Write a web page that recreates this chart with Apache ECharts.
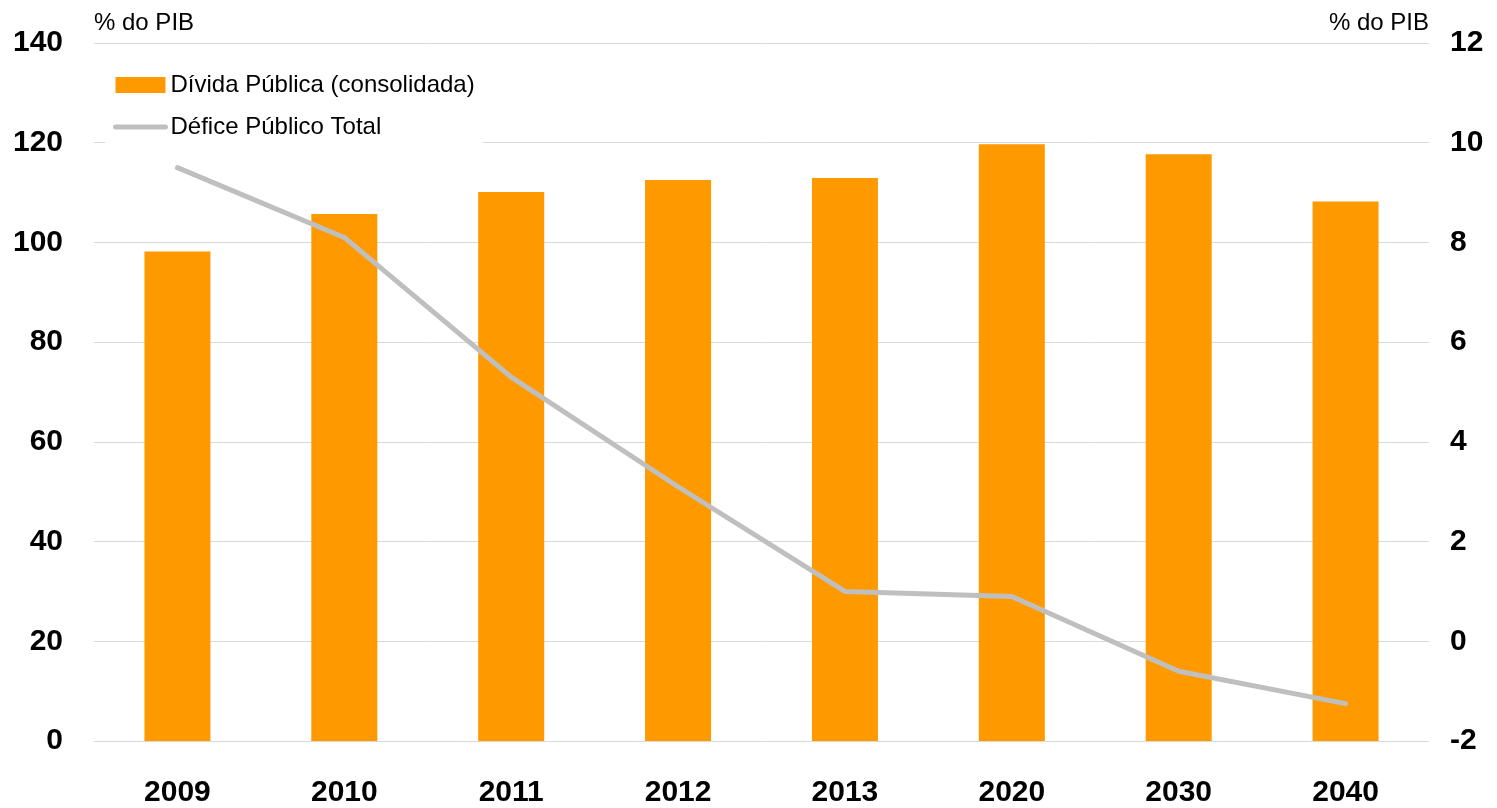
<!DOCTYPE html>
<html>
<head>
<meta charset="utf-8">
<title>Dívida e Défice Público</title>
<script src="https://cdn.jsdelivr.net/npm/echarts@6/dist/echarts.min.js"></script>
<style>
  html, body { margin: 0; padding: 0; background: #fff; }
  #chart { width: 1497px; height: 808px; }
</style>
</head>
<body>
<div id="chart"></div>
<script>
let years = ['2009', '2010', '2011', '2012', '2013', '2020', '2030', '2040']
let divida = [98.2, 105.7, 110.1, 112.5, 112.9, 119.7, 117.7, 108.2]
let defice = [9.5, 8.1, 5.3, 3.1, 1.0, 0.9, -0.6, -1.25]

let leftTicks = { min: 0, max: 140, interval: 20 }
let rightTicks = { min: -2, max: 12, interval: 2 }

let font = '"Liberation Sans", Arial, sans-serif'
let chart = echarts.init(document.getElementById('chart'))

chart.setOption({
  animation: false,
  textStyle: { fontFamily: font },
  grid: {
    left: 94,
    right: 68,
    top: 43,
    bottom: 64,
    containLabel: false
  },
  legend: {
    orient: 'vertical',
    left: 105,
    top: 58,
    padding: [15, 8, 10, 8],
    backgroundColor: '#fff',
    itemWidth: 50,
    itemHeight: 16,
    itemGap: 18,
    textStyle: { fontSize: 24, color: '#000', fontFamily: font },
    data: [
      { name: 'Dívida Pública (consolidada)', icon: 'rect' },
      {
        name: 'Défice Público Total',
        // only the line in the legend, no marker
        itemStyle: { opacity: 0 },
        lineStyle: { width: 5, cap: 'round' }
      }
    ]
  },
  xAxis: {
    type: 'category',
    data: years,
    axisTick: { show: false },
    axisLine: { lineStyle: { color: '#D9D9D9', width: 1 } },
    axisLabel: {
      margin: 37,
      fontSize: 30,
      fontWeight: 'bold',
      color: '#000',
      fontFamily: font
    }
  },
  yAxis: [
    {
      type: 'value',
      min: leftTicks.min,
      max: leftTicks.max,
      interval: leftTicks.interval,
      name: '% do PIB',
      nameLocation: 'end',
      nameGap: 20,
      nameTextStyle: { fontSize: 24, color: '#000', align: 'left', verticalAlign: 'middle', fontFamily: font },
      axisLine: { show: false },
      axisTick: { show: false },
      splitLine: { lineStyle: { color: '#D9D9D9', width: 1 } },
      axisLabel: { margin: 31, fontSize: 30, fontWeight: 'bold', color: '#000', fontFamily: font }
    },
    {
      type: 'value',
      position: 'right',
      min: rightTicks.min,
      max: rightTicks.max,
      interval: rightTicks.interval,
      name: '% do PIB',
      nameLocation: 'end',
      nameGap: 20,
      nameTextStyle: { fontSize: 24, color: '#000', align: 'right', verticalAlign: 'middle', fontFamily: font },
      axisLine: { show: false },
      axisTick: { show: false },
      splitLine: { show: false },
      axisLabel: { margin: 21, fontSize: 30, fontWeight: 'bold', color: '#000', fontFamily: font }
    }
  ],
  series: [
    {
      name: 'Dívida Pública (consolidada)',
      type: 'bar',
      data: divida,
      barWidth: 66,
      itemStyle: { color: '#FF9900' }
    },
    {
      name: 'Défice Público Total',
      type: 'line',
      yAxisIndex: 1,
      data: defice,
      symbol: 'none',
      lineStyle: { color: '#BFBFBF', width: 5, cap: 'round', join: 'round' },
      itemStyle: { color: '#BFBFBF' }
    }
  ]
})
</script>
</body>
</html>
